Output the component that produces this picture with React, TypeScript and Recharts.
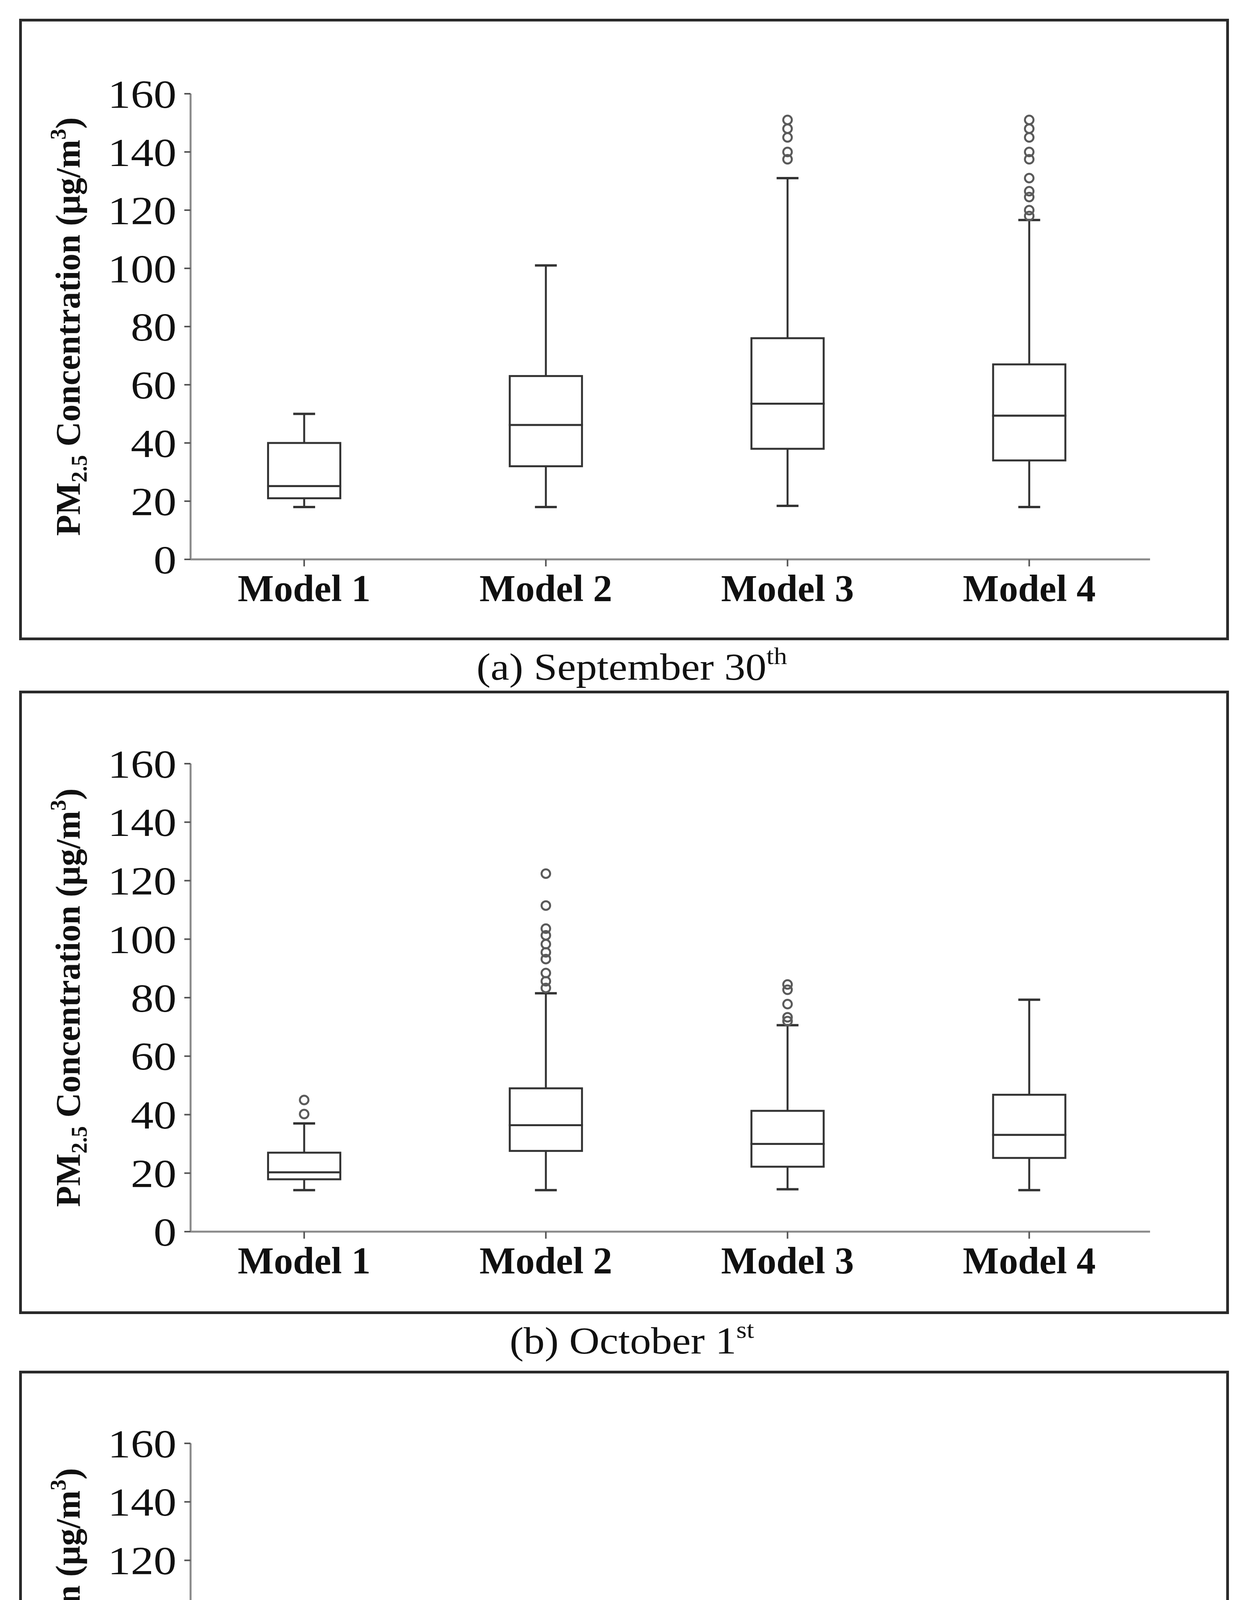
import React from 'react';
import { ComposedChart, Bar, Scatter, XAxis, YAxis } from 'recharts';

const SERIF = '"Liberation Serif", "Times New Roman", serif';

const categories = ['Model 1', 'Model 2', 'Model 3', 'Model 4'];
const yTicks = [0, 20, 40, 60, 80, 100, 120, 140, 160];

// (a) September 30th
const sepMin = [18, 18, 18.4, 18];
const sepQ1 = [21, 32, 38, 34];
const sepMedian = [25.2, 46.2, 53.5, 49.4];
const sepQ3 = [40, 63, 76, 67];
const sepMax = [50, 101, 131, 116.6];
const sepOutliers = [
    [],
    [],
    [151, 148, 145, 140, 137.5],
    [151, 148, 145, 140, 137.5, 131, 126.5, 124.5, 120, 118],
];

// (b) October 1st
const oct1Min = [14.2, 14.2, 14.5, 14.2];
const oct1Q1 = [17.9, 27.6, 22.2, 25.2];
const oct1Median = [20.3, 36.4, 30, 33.1];
const oct1Q3 = [27, 49, 41.3, 46.8];
const oct1Max = [37, 81.5, 70.6, 79.3];
const oct1Outliers = [
    [45, 40.2],
    [122.4, 111.5, 103.6, 101.3, 98.3, 95.5, 93.2, 88.4, 85.6, 83.3],
    [84.5, 82.7, 77.8, 73.3, 72],
    [],
];

// (c) October 2nd
const oct2Min = [0.8, 0.6, 2, 0.6];
const oct2Q1 = [2, 6.8, 6.5, 6.8];
const oct2Median = [6.8, 14.8, 12.8, 13.9];
const oct2Q3 = [16.9, 26.9, 29.6, 28];
const oct2Max = [24.9, 55.8, 62.5, 60];
const oct2Outliers = [
    [],
    [81, 75.8, 69, 58.9],
    [67.2, 65.7],
    [81, 75.8, 69.4, 67.2, 65, 62],
];

type BoxRow = {
    x: number;
    base: number;
    lowWhisker: number;
    lowBox: number;
    highBox: number;
    highWhisker: number;
};

function buildRows(min: number[], q1: number[], med: number[], q3: number[], max: number[]): BoxRow[] {
    return categories.map((_, i) => ({
        x: i + 1,
        base: min[i],
        lowWhisker: q1[i] - min[i],
        lowBox: med[i] - q1[i],
        highBox: q3[i] - med[i],
        highWhisker: max[i] - q3[i],
    }));
}

function buildOutliers(outliers: number[][]) {
    const points: { x: number; y: number }[] = [];
    outliers.forEach((list, i) => list.forEach((v) => points.push({ x: i + 1, y: v })));
    return points;
}

const panels = [
    {
        rows: buildRows(sepMin, sepQ1, sepMedian, sepQ3, sepMax),
        outliers: buildOutliers(sepOutliers),
        caption: '(a) September 30',
        sup: 'th',
        frameTop: 51,
        frameBottom: 1635,
        y160: 240,
        y0: 1432,
        captionBase: 1740,
    },
    {
        rows: buildRows(oct1Min, oct1Q1, oct1Median, oct1Q3, oct1Max),
        outliers: buildOutliers(oct1Outliers),
        caption: '(b) October 1',
        sup: 'st',
        frameTop: 1771,
        frameBottom: 3360,
        y160: 1955,
        y0: 3153,
        captionBase: 3465,
    },
    {
        rows: buildRows(oct2Min, oct2Q1, oct2Median, oct2Q3, oct2Max),
        outliers: buildOutliers(oct2Outliers),
        caption: '(c) October 2',
        sup: 'nd',
        frameTop: 3512,
        frameBottom: 5100,
        y160: 3695,
        y0: 4893,
        captionBase: 5208,
    },
];

const LINE = '#333';
const CAP = 56;

const emptyShape = () => <g />;

const lowWhiskerShape = (props: any) => {
    const { x, y, width, height } = props;
    const cx = x + width / 2;
    return (
        <g>
            <line x1={cx} x2={cx} y1={y} y2={y + height} stroke={LINE} strokeWidth={5} />
            <line x1={cx - CAP / 2} x2={cx + CAP / 2} y1={y + height} y2={y + height} stroke={LINE} strokeWidth={6} />
        </g>
    );
};

const highWhiskerShape = (props: any) => {
    const { x, y, width, height } = props;
    const cx = x + width / 2;
    return (
        <g>
            <line x1={cx} x2={cx} y1={y} y2={y + height} stroke={LINE} strokeWidth={5} />
            <line x1={cx - CAP / 2} x2={cx + CAP / 2} y1={y} y2={y} stroke={LINE} strokeWidth={6} />
        </g>
    );
};

const boxShape = (props: any) => {
    const { x, y, width, height } = props;
    return <rect x={x} y={y} width={width} height={height} fill="#fff" stroke={LINE} strokeWidth={5} />;
};

const outlierShape = (props: any) => (
    <circle cx={props.cx} cy={props.cy} r={11} fill="none" stroke="#5a5a5a" strokeWidth={5} />
);

const YTick = (props: any) => {
    const { x, y, payload } = props;
    return (
        <g transform={`translate(${x},${y})`}>
            <text textAnchor="end" dy="0.35em" fontSize={102} fontFamily={SERIF} fill="#111" transform="scale(1.15,1)">
                {payload.value}
            </text>
        </g>
    );
};

const XTick = (props: any) => {
    const { x, y, payload } = props;
    return (
        <text x={x} y={y} dy="0.71em" textAnchor="middle" fontSize={98} fontWeight="bold" fontFamily={SERIF} fill="#111">
            {categories[payload.value - 1]}
        </text>
    );
};

function Panel({ panel }: { panel: (typeof panels)[number] }) {
    const plotH = panel.y0 - panel.y160;
    const chartTop = panel.y160 - 100;
    const chartH = 100 + plotH + 200;

    return (
        <>
            <div
                style={{
                    position: 'absolute',
                    left: 48.5,
                    top: panel.frameTop - 3.5,
                    width: 3098,
                    height: panel.frameBottom - panel.frameTop + 7,
                    border: '7px solid #2a2a2a',
                    boxSizing: 'border-box',
                }}
            />
            <div style={{ position: 'absolute', left: 0, top: chartTop }}>
                <ComposedChart
                    width={3183}
                    height={chartH}
                    data={panel.rows}
                    margin={{ top: 100, right: 238, bottom: 0, left: 0 }}
                >
                    <XAxis
                        type="number"
                        dataKey="x"
                        domain={[0.53, 4.5]}
                        ticks={[1, 2, 3, 4]}
                        allowDataOverflow
                        height={200}
                        tickSize={18}
                        tickMargin={19}
                        axisLine={{ stroke: '#8a8a8a', strokeWidth: 5 }}
                        tickLine={{ stroke: '#555', strokeWidth: 4 }}
                        tick={<XTick />}
                    />
                    <YAxis
                        type="number"
                        domain={[0, 160]}
                        ticks={yTicks}
                        allowDataOverflow
                        width={488}
                        tickSize={16}
                        tickMargin={20}
                        axisLine={{ stroke: '#8a8a8a', strokeWidth: 5 }}
                        tickLine={{ stroke: '#555', strokeWidth: 4 }}
                        tick={<YTick />}
                    />
                    <Bar dataKey="base" stackId="box" barSize={185} shape={emptyShape} isAnimationActive={false} />
                    <Bar dataKey="lowWhisker" stackId="box" barSize={185} shape={lowWhiskerShape} isAnimationActive={false} />
                    <Bar dataKey="lowBox" stackId="box" barSize={185} shape={boxShape} isAnimationActive={false} />
                    <Bar dataKey="highBox" stackId="box" barSize={185} shape={boxShape} isAnimationActive={false} />
                    <Bar dataKey="highWhisker" stackId="box" barSize={185} shape={highWhiskerShape} isAnimationActive={false} />
                    <Scatter data={panel.outliers} dataKey="y" shape={outlierShape} isAnimationActive={false} />
                </ComposedChart>
            </div>
            <svg
                width={320}
                height={plotH}
                style={{ position: 'absolute', left: 0, top: panel.y160 }}
            >
                <text
                    transform={`translate(204,${plotH / 2}) rotate(-90)`}
                    textAnchor="middle"
                    fontSize={88}
                    fontWeight="bold"
                    fontFamily={SERIF}
                    fill="#111"
                >
                    PM
                    <tspan fontSize={56} dy={18}>2.5</tspan>
                    <tspan dy={-18}>{' Concentration (μg/m'}</tspan>
                    <tspan fontSize={56} dy={-36}>3</tspan>
                    <tspan dy={36}>)</tspan>
                </text>
            </svg>
            <svg
                width={3183}
                height={130}
                style={{ position: 'absolute', left: 0, top: panel.captionBase - 100 }}
            >
                <text
                    transform="translate(1618,100) scale(1.1,1)"
                    textAnchor="middle"
                    fontSize={98}
                    fontFamily={SERIF}
                    fill="#111"
                >
                    {panel.caption}
                    <tspan fontSize={62} dy={-40}>{panel.sup}</tspan>
                </text>
            </svg>
        </>
    );
}

export default function App() {
    // in-flow page box so the document itself is 3183 x 5244 (cancels the body margin)
    return (
        <div
            style={{
                position: 'relative',
                width: 3183,
                height: 5244,
                margin: -8,
                background: '#fff',
                overflow: 'hidden',
            }}
        >
            {panels.map((p) => (
                <Panel key={p.caption} panel={p} />
            ))}
        </div>
    );
}
